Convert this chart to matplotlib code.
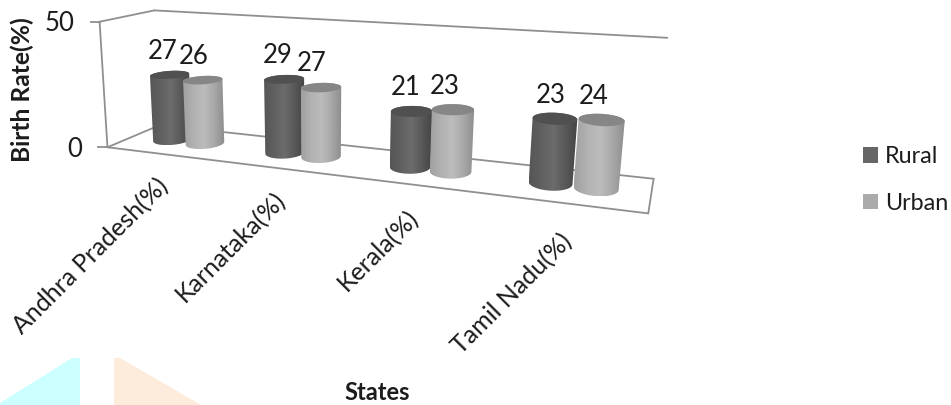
import numpy as np
import matplotlib
matplotlib.use("Agg")
import matplotlib.pyplot as plt
from matplotlib.colors import LinearSegmentedColormap
from matplotlib.patches import Polygon, Patch

plt.rcParams["font.family"] = ["Lato", "DejaVu Sans"]

# Chart data
states = ["Andhra Pradesh(%)", "Karnataka(%)", "Kerala(%)", "Tamil Nadu(%)"]
rural = [27, 29, 21, 23]
urban = [26, 27, 23, 24]
y_ticks = [0, 50]

# Screen layout of the 3D box: (category, depth, value) -> (px, py)
calibration = [
    ((0, 0, 0), (110, 146), 3), ((4, 0, 0), (648, 215), 3),
    ((0, 1, 0), (157, 127), 3), ((4, 1, 0), (654, 177), 3),
    ((0, 0, 50), (97, 22), 3), ((0, 1, 50), (157, 10), 3),
    ((4, 1, 50), (667, 38), 3),
    ((0.5, 0.5, 0), (188, 140.5), 2), ((1.5, 0.5, 0), (302, 154.5), 2),
    ((2.5, 0.5, 0), (430, 169.5), 2), ((3.5, 0.5, 0), (573, 187), 2),
]
LINE = "#8f8f8f"
TEXT = "#1c1c1c"


def fit_camera(points):
    rows = []
    for (x, d, z), (px, py), w in points:
        X = np.array([x / 4, d, z / 50, 1.0])
        u, v = px / 1000, py / 1000
        rows.append(w * np.r_[X, 0 * X, -u * X])
        rows.append(w * np.r_[0 * X, X, -v * X])
    return np.linalg.svd(np.array(rows))[2][-1].reshape(3, 4)


CAM = fit_camera(calibration)


def project(x, d, z):
    x, d, z = np.broadcast_arrays(x, d, z)
    X = np.stack([x / 4, d, z / 50, np.ones_like(x, dtype=float)])
    p = CAM @ X
    return p[0] / p[2] * 1000, p[1] / p[2] * 1000


def hull(pts):
    pts = sorted(map(tuple, pts))

    def half(seq):
        out = []
        for p in seq:
            while len(out) > 1 and ((out[-1][0] - out[-2][0]) * (p[1] - out[-2][1])
                                    - (out[-1][1] - out[-2][1]) * (p[0] - out[-2][0])) <= 0:
                out.pop()
            out.append(p)
        return out[:-1]

    return np.array(half(pts) + half(pts[::-1]))


fig = plt.figure(figsize=(9.51, 4.05), dpi=100)
ax = fig.add_axes([0, 0, 1, 1])
ax.set_xlim(0, 951)
ax.set_ylim(405, 0)
ax.axis("off")

# Pale corner shapes along the bottom edge
ax.add_patch(Polygon([(0, 403), (72, 358), (80, 358), (80, 405), (0, 405)],
                     fc="#ccffff", ec="none", zorder=0))
ax.add_patch(Polygon([(114, 358), (120, 358), (201, 405), (114, 405)],
                     fc="#fdecdc", ec="none", zorder=0))

# Box edges
edges = [
    ((0, 0, 50), (0, 1, 50)), ((0, 1, 50), (4, 1, 50)), ((0, 0, 50), (0, 0, 0)),
    ((0, 0, 0), (0, 1, 0)), ((0, 1, 0), (4, 1, 0)), ((0, 0, 0), (4, 0, 0)),
    ((4, 0, 0), (4, 1, 0)),
]
for a, b in edges:
    xa, ya = project(*map(float, a))
    xb, yb = project(*map(float, b))
    ax.plot([xa, xb], [ya, yb], color=LINE, lw=1.3, zorder=1, solid_capstyle="round")

# Value axis ticks and labels
for t in y_ticks:
    px, py = project(0.0, 0.0, float(t))
    ax.plot([px - 9, px], [py, py], color=LINE, lw=1.3, zorder=1)
    ax.text(px - 25, py + 2, str(t), ha="right", va="center", fontsize=18.5, color=TEXT)

dark = LinearSegmentedColormap.from_list("dark", ["#565656", "#606060", "#6c6c6c", "#585858", "#444444"])
light = LinearSegmentedColormap.from_list("light", ["#a0a0a0", "#b2b2b2", "#bcbcbc", "#a8a8a8", "#8c8c8c"])
series = [
    (rural, -0.15, dark, "#505050", [-6.5, -6, -5, -3.5]),
    (urban, 0.15, light, "#868686", [-8, -9, -8, -8]),
]
RX, RD, DEPTH = 0.145, 0.23, 0.52
theta = np.linspace(0, 2 * np.pi, 73)
grad = np.linspace(0, 1, 128)[None, :]

z = 2
for i in range(len(states)):
    for values, off, cmap, top_col, label_dx in series:
        v = values[i]
        cx = i + 0.5 + off
        ex = cx + RX * np.cos(theta)
        ed = DEPTH + RD * np.sin(theta)
        bx, by = project(ex, ed, 0.0)
        tx, ty = project(ex, ed, float(v))
        outline = hull(np.r_[np.c_[bx, by], np.c_[tx, ty]])
        side = Polygon(outline, fc="none", ec="none", zorder=z)
        ax.add_patch(side)
        im = ax.imshow(grad, cmap=cmap, aspect="auto", zorder=z, interpolation="bilinear",
                       extent=(outline[:, 0].min(), outline[:, 0].max(),
                               outline[:, 1].max(), outline[:, 1].min()))
        im.set_clip_path(side)
        ax.add_patch(Polygon(np.c_[tx, ty], fc=top_col, ec="none", zorder=z + 0.5))
        px, py = project(cx, 0.5, float(v))
        ax.text(px + label_dx[i], py - 24, str(v), ha="center", va="center",
                fontsize=18.5, color=TEXT, zorder=20)
        z += 1
ax.set_xlim(0, 951)
ax.set_ylim(405, 0)

# Rotated category labels, ending near the front floor edge
label_shift = [(2, 28), (0, 27), (0, 29), (3, 34)]
for i, name in enumerate(states):
    px, py = project(i + 0.5, 0.0, 0.0)
    ax.text(px + label_shift[i][0], py + label_shift[i][1], name, rotation=45,
            rotation_mode="anchor", ha="right", va="center", fontsize=18, color=TEXT)

ax.text(22, 90, "Birth Rate(%)", rotation=90, ha="center", va="center",
        fontsize=17.7, fontweight="bold", color=TEXT)
ax.text(377, 393, "States", ha="center", va="center", fontsize=17,
        fontweight="bold", color=TEXT)

handles = [Patch(fc="#666666", ec="none", label="Rural"),
           Patch(fc="#ababab", ec="none", label="Urban")]
ax.legend(handles=handles, loc="upper left", bbox_to_anchor=(863 / 951, 1 - 146 / 405),
          frameon=False, fontsize=16.8, handlelength=0.64, handleheight=0.64,
          handletextpad=0.3, labelspacing=1.1, borderpad=0, borderaxespad=0,
          labelcolor=TEXT)

fig.savefig("out.png", dpi=100)
